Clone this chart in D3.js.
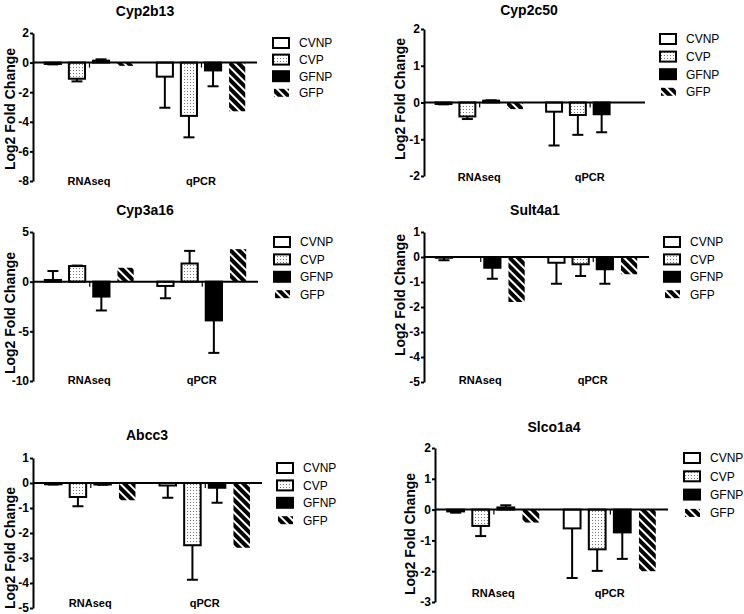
<!DOCTYPE html>
<html><head><meta charset="utf-8">
<script src="https://cdn.jsdelivr.net/npm/d3@7"></script>
<style>
body{margin:0;background:#fff}
svg{display:block}
text{font-family:"Liberation Sans",Arial,Helvetica,sans-serif;fill:#000}
</style>
</head><body>
<svg id="chart" width="744" height="614"></svg>
<script>
// ---------- DATA ----------
const categories = ["RNAseq", "qPCR"];
const seriesNames = ["CVNP", "CVP", "GFNP", "GFP"];
const geneNames = ["Cyp2b13", "Cyp2c50", "Cyp3a16", "Sult4a1", "Abcc3", "Slco1a4"];

// values: RNAseq (CVNP, CVP, GFNP, GFP), then qPCR (CVNP, CVP, GFNP, GFP)
const cyp2b13Values = [-0.09, -1.09, 0.13, -0.22,   -0.95, -3.60, -0.53, -3.29];
const cyp2b13Errors = [ 0.03,  0.18, 0.09,  0,       2.10,  1.45,  1.07,  0];
const cyp2b13Ticks  = [2, 0, -2, -4, -6, -8];

const cyp2c50Values = [-0.04, -0.38, 0.05, -0.18,   -0.25, -0.34, -0.32, 0];
const cyp2c50Errors = [ 0.01,  0.07, 0.01,  0,       0.92,  0.54,  0.49, 0];
const cyp2c50Ticks  = [2, 1, 0, -1, -2];

const cyp3a16Values = [0.17, 1.57, -1.50, 1.40,   -0.43, 1.83, -3.90, 3.27];
const cyp3a16Errors = [0.90, 0.05,  1.40, 0,       1.24, 1.27,  3.27, 0];
const cyp3a16Ticks  = [5, 0, -5, -10];

const sult4a1Values = [-0.03, 0, -0.43, -1.80,   -0.23, -0.29, -0.49, -0.69];
const sult4a1Errors = [ 0.10, 0,  0.44,  0,       0.84,  0.47,  0.58,  0];
const sult4a1Ticks  = [1, 0, -1, -2, -3, -4, -5];

const abcc3Values = [-0.05, -0.56, -0.06, -0.69,   -0.10, -2.49, -0.19, -2.59];
const abcc3Errors = [ 0.01,  0.37,  0.01,  0,       0.49,  1.38,  0.60,  0];
const abcc3Ticks  = [1, 0, -1, -2, -3, -4, -5];

const slco1a4Values = [-0.06, -0.53, 0.07, -0.42,   -0.61, -1.29, -0.74, -2.00];
const slco1a4Errors = [ 0.04,  0.33, 0.07,  0,       1.61,  0.70,  0.86,  0];
const slco1a4Ticks  = [2, 1, 0, -1, -2, -3];

const yAxisTitle = "Log2 Fold Change";

// ---------- LAYOUT ----------
const layout = [
  {left:33,  right:257, top:33,  bottom:181, tx:145, ty:16,  lx:15,  ly:109, cy:185, legX:272, legY:43,  legStep:16.6},
  {left:424, right:645, top:29,  bottom:176, tx:529, ty:15,  lx:405, ly:99,  cy:181, legX:659, legY:39,  legStep:17.6},
  {left:33,  right:258, top:232, bottom:381, tx:145, ty:215, lx:15,  ly:313, cy:384, legX:273, legY:242, legStep:17.4},
  {left:424, right:649, top:232, bottom:382, tx:535, ty:215, lx:405, ly:295, cy:384, legX:663, legY:242, legStep:17.4},
  {left:33,  right:262, top:458, bottom:608, tx:147, ty:440, lx:15,  ly:548, cy:607, legX:276, legY:468, legStep:17.4},
  {left:435, right:668, top:448, bottom:602, tx:554, ty:432, lx:415, ly:534, cy:597, legX:683, legY:458, legStep:18.3}
];

const panels = [
  {values: cyp2b13Values, errors: cyp2b13Errors, ticks: cyp2b13Ticks},
  {values: cyp2c50Values, errors: cyp2c50Errors, ticks: cyp2c50Ticks},
  {values: cyp3a16Values, errors: cyp3a16Errors, ticks: cyp3a16Ticks},
  {values: sult4a1Values, errors: sult4a1Errors, ticks: sult4a1Ticks},
  {values: abcc3Values,   errors: abcc3Errors,   ticks: abcc3Ticks},
  {values: slco1a4Values, errors: slco1a4Errors, ticks: slco1a4Ticks}
];

const svg = d3.select("#chart");
const defs = svg.append("defs");

// dotted pattern (CVP)
const dots = defs.append("pattern").attr("id","dots").attr("patternUnits","userSpaceOnUse")
  .attr("width",3).attr("height",3);
dots.append("rect").attr("width",3).attr("height",3).attr("fill","#fff");
dots.append("rect").attr("x",1).attr("y",1).attr("width",1).attr("height",1).attr("fill","#777");

// hatched pattern (GFP)
const hatch = defs.append("pattern").attr("id","hatch").attr("patternUnits","userSpaceOnUse")
  .attr("width",6).attr("height",6).attr("patternTransform","rotate(-45)");
hatch.append("rect").attr("width",6).attr("height",6).attr("fill","#000");
hatch.append("rect").attr("x",0).attr("width",2).attr("height",6).attr("fill","#fff");

const fills = {CVNP:"#fff", CVP:"url(#dots)", GFNP:"#000", GFP:"url(#hatch)"};
const strokes = {CVNP:"#000", CVP:"#000", GFNP:"#000", GFP:"none"};

panels.forEach((p, i) => {
  const L = layout[i];
  const g = svg.append("g");
  const dom = d3.extent(p.ticks);
  const y = d3.scaleLinear().domain(dom).range([L.bottom, L.top]);
  const x0 = d3.scaleBand().domain(categories).range([L.left, L.right])
    .paddingInner(0.21).paddingOuter(0.105);
  const x1 = d3.scaleBand().domain(seriesNames).range([0, x0.bandwidth()])
    .paddingInner(0.33).paddingOuter(0);

  const rows = [];
  categories.forEach((c, ci) => seriesNames.forEach((s, si) => {
    rows.push({cat:c, ser:s, v:p.values[ci*4+si], e:p.errors[ci*4+si]});
  }));

  // title
  g.append("text").attr("x", L.tx).attr("y", L.ty).attr("text-anchor","middle")
    .style("font-size","14px").style("font-weight","bold").text(geneNames[i]);

  // y axis title
  g.append("text").attr("transform", `translate(${L.lx},${L.ly}) rotate(-90)`)
    .attr("text-anchor","middle").style("font-size","14px").style("font-weight","bold")
    .text(yAxisTitle);

  // error bars
  const eb = g.append("g").attr("stroke","#000").attr("stroke-width",2).attr("fill","none");
  rows.filter(r => r.e > 0).forEach(r => {
    const cx = x0(r.cat) + x1(r.ser) + x1.bandwidth()/2;
    const end = r.v + (r.v >= 0 ? r.e : -r.e);
    eb.append("line").attr("x1",cx).attr("x2",cx).attr("y1",y(r.v)).attr("y2",y(end));
    eb.append("line").attr("x1",cx-5.5).attr("x2",cx+5.5).attr("y1",y(end)).attr("y2",y(end));
  });

  // bars
  g.append("g").selectAll("rect").data(rows.filter(r => r.v !== 0)).join("rect")
    .attr("x", r => x0(r.cat) + x1(r.ser))
    .attr("width", x1.bandwidth())
    .attr("y", r => Math.min(y(r.v), y(0)))
    .attr("height", r => Math.abs(y(r.v) - y(0)))
    .attr("fill", r => fills[r.ser])
    .attr("stroke", r => strokes[r.ser])
    .attr("stroke-width", 2);

  // small marks left of GFNP bars
  g.append("g").selectAll("line").data(categories).join("line")
    .attr("x1", c => x0(c) + x1("GFNP") - 3.5).attr("x2", c => x0(c) + x1("GFNP") - 3.5)
    .attr("y1", y(0)).attr("y2", y(0) + 5)
    .attr("stroke","#000").attr("stroke-width",1.2);

  // zero line
  g.append("line").attr("x1", L.left).attr("x2", L.right).attr("y1", y(0)).attr("y2", y(0))
    .attr("stroke","#000").attr("stroke-width",2);

  // y axis
  const ax = g.append("g").attr("transform", `translate(${L.left},0)`)
    .call(d3.axisLeft(y).tickValues(p.ticks).tickSize(3).tickPadding(1).tickSizeOuter(0)
      .tickFormat(d3.format("d")));
  ax.select(".domain").attr("stroke-width",2);
  ax.selectAll(".tick line").attr("stroke-width",2);
  ax.selectAll(".tick text").style("font-size","12px").style("font-weight","bold")
    .style("font-family",'"Liberation Sans",Arial,sans-serif').attr("fill","#000")
    .text(d => d < 0 ? "-" + Math.abs(d) : d);

  // category labels
  g.append("g").selectAll("text").data(categories).join("text")
    .attr("x", c => x0(c) + x0.bandwidth()/2).attr("y", L.cy)
    .attr("text-anchor","middle").style("font-size","11px").style("font-weight","bold")
    .text(c => c);

  // legend
  const lg = g.append("g");
  seriesNames.forEach((s, si) => {
    const cyy = L.legY + si*L.legStep;
    if (s === "GFP") {
      lg.append("rect").attr("x", L.legX+2).attr("y", cyy-4).attr("width", 15).attr("height", 8)
        .attr("fill", fills[s]);
    } else {
      lg.append("rect").attr("x", L.legX+1).attr("y", cyy-5).attr("width", 16).attr("height", 10)
        .attr("fill", fills[s]).attr("stroke","#000").attr("stroke-width",2);
    }
    lg.append("text").attr("x", L.legX + 27).attr("y", cyy).attr("dy","0.36em")
      .style("font-size","12px").text(s);
  });
});
</script>
</body></html>
